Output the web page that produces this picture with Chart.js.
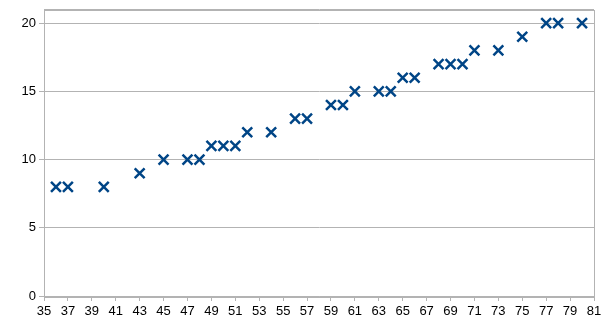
<!DOCTYPE html>
<html>
<head>
<meta charset="utf-8">
<script src="https://cdn.jsdelivr.net/npm/chart.js@4/dist/chart.umd.min.js"></script>
<style>
html,body{margin:0;padding:0;background:#fff;}
#wrap{width:605px;height:327px;}
</style>
</head>
<body>
<div id="wrap"><canvas id="c" width="605" height="327"></canvas></div>
<script>
const xValues = [36, 37, 40, 43, 45, 47, 48, 49, 50, 51, 52, 54, 56, 57, 59, 60, 61, 63, 64, 65, 66, 68, 69, 70, 71, 73, 75, 77, 78, 80];
const yValues = [8, 8, 8, 9, 10, 10, 10, 11, 11, 11, 12, 12, 13, 13, 14, 14, 15, 15, 15, 16, 16, 17, 17, 17, 18, 18, 19, 20, 20, 20];
const yTickLabels = [0, 5, 10, 15, 20];

const points = xValues.map((x, i) => ({x: x, y: yValues[i]}));
const GRID = '#b3b3b3';

const borderPlugin = {
  id: 'plotBorder',
  beforeDatasetsDraw(chart) {
    const a = chart.chartArea, ctx = chart.ctx;
    ctx.save();
    ctx.strokeStyle = GRID;
    ctx.lineWidth = 1;
    ctx.strokeRect(Math.round(a.left) + 0.5, Math.round(a.top) + 0.5, Math.round(a.right - a.left), Math.round(a.bottom - a.top));
    ctx.restore();
  }
};

new Chart(document.getElementById('c'), {
  type: 'scatter',
  data: {
    datasets: [{
      data: points,
      pointStyle: 'crossRot',
      pointRadius: 7,
      pointHoverRadius: 7,
      borderWidth: 2.5,
      borderColor: '#004586',
      backgroundColor: '#004586'
    }]
  },
  options: {
    responsive: false,
    animation: false,
    events: [],
    layout: {padding: {top: 7, right: 11, left: 0, bottom: 0}},
    plugins: {legend: {display: false}, tooltip: {enabled: false}},
    scales: {
      x: {
        type: 'linear',
        min: 35,
        max: 81,
        ticks: {stepSize: 2, color: '#000', padding: 3, font: {family: 'Liberation Sans', size: 13}, maxRotation: 0, autoSkip: false},
        grid: {drawOnChartArea: false, drawTicks: true, tickLength: 5, color: GRID},
        border: {color: GRID},
        afterFit(s) { s.height = 31; s.paddingLeft = 0; s.paddingRight = 0; }
      },
      y: {
        min: 0,
        max: 21,
        afterBuildTicks(s) {
          s.ticks = yTickLabels.map(v => ({value: v})).concat([{value: 21}]);
        },
        ticks: {
          color: '#000', padding: 3, font: {family: 'Liberation Sans', size: 13},
          callback: (v) => (yTickLabels.includes(v) ? String(v) : '')
        },
        grid: {
          color: GRID, tickLength: 5,
          tickColor: (ctx) => (ctx.tick && ctx.tick.value === 21 ? 'rgba(0,0,0,0)' : GRID)
        },
        border: {color: GRID},
        afterFit(s) { s.width = 44; s.paddingTop = 0; s.paddingBottom = 0; }
      }
    }
  },
  plugins: [borderPlugin]
});
</script>
</body>
</html>
